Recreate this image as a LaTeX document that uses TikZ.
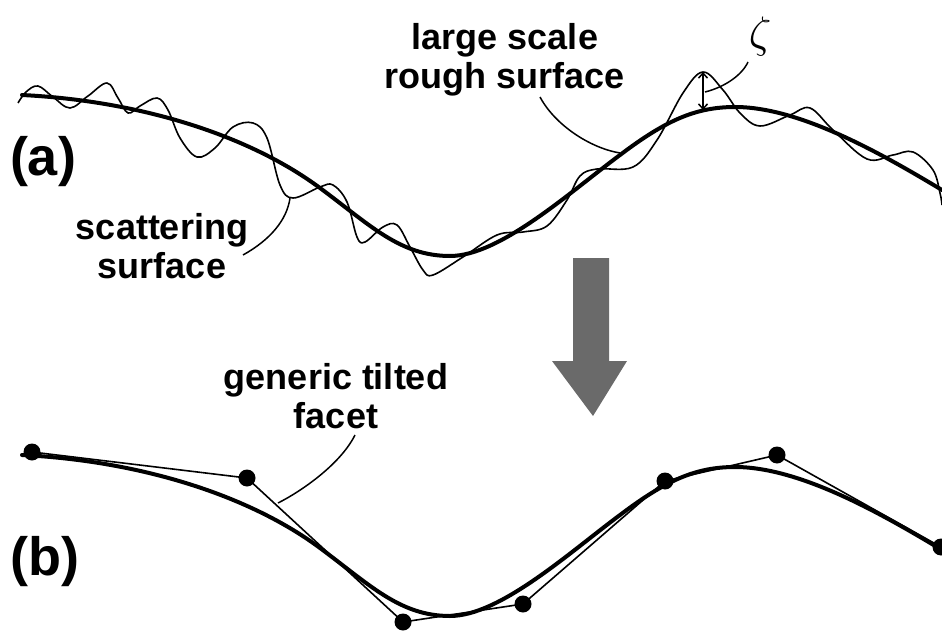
\documentclass[tikz,border=0pt]{standalone}
\usepackage{fontspec}
\setmainfont{Liberation Sans}
\usetikzlibrary{arrows.meta}
\newcommand\largecurve{(22,95) .. controls (142,101) and (250,136) .. (320,188) .. controls (370,225) and (400,256) .. (450,256) .. controls (500,256) and (570,192) .. (620,155) .. controls (665,121) and (695,107) .. (735,107) .. controls (800,107) and (882,154) .. (942,190)}
\begin{document}
\begin{tikzpicture}[x=1pt,y=-1pt,
  bigline/.style={line width=4pt, line join=round, line cap=round},
  thinline/.style={line width=1.6pt, line join=round},
  leader/.style={line width=1.5pt},
  label/.style={font=\fontsize{36}{39}\selectfont\bfseries, align=center, inner sep=0pt},
  panel/.style={font=\fontsize{54}{54}\selectfont\bfseries, inner sep=0pt},
  facetdot/.style={circle, fill=black, minimum size=17pt, inner sep=0pt},
  bigarrow/.style={fill=arrowgray, draw=none}]
\definecolor{arrowgray}{RGB}{106,106,106}
\useasboundingbox (0,0) rectangle (942,631);
% panel labels
\node[panel] (pa) at (43,162) {(a)};
\node[panel] (pb) at (45,562) {(b)};
% (a) large scale surface
\draw[bigline] \largecurve;
% scattering surface (thin wavy)
\draw[thinline] plot[smooth, tension=0.6] coordinates {
 (18,103) (26,92) (38,86) (53,97) (70,108) (88,96) (107,83) (118,98) (128,113) (140,106) (157,98) (168,110) (180,138) (197,157) (215,148) (233,127) (253,123) (267,138) (280,185) (293,198) (320,187) (333,185) (347,202) (357,237) (365,242) (383,227) (397,225) (410,247) (423,270) (433,275) (463,257) (497,235) (523,232) (547,226) (567,200) (580,176) (597,169) (633,167) (657,140) (683,93) (703,72) (723,90) (740,113) (760,126) (790,115) (810,108) (833,130) (867,159) (893,155) (913,152) (933,170) (940,193) (942,205)};
% labels (a)
\node[label] (lsr) at (505,60) {large scale\\rough surface};
\node[label] (scat) at (162,246) {scattering\\surface};
\node[inner sep=0pt] (zeta) at (760,37) {\scalebox{4.4}{$\zeta$}};
\coordinate (peak) at (703,72);
\coordinate (base) at (703,110);
\coordinate (zmid) at (705,92);
\coordinate (lsrA) at (540,97);
\coordinate (lsrB) at (620,153);
\coordinate (scA) at (243,255);
\coordinate (scB) at (290,198);
\coordinate (zA) at (748,62);
\draw[leader, {Straight Barb[length=5pt,width=9pt]}-{Straight Barb[length=5pt,width=9pt]}] (peak) -- (base);
\draw[leader] (zmid) .. controls (725,87) and (742,75) .. (zA);
\draw[leader] (lsrA) .. controls (555,125) and (590,148) .. (lsrB);
\draw[leader] (scA) .. controls (270,240) and (287,220) .. (scB);
% big gray arrow
\fill[bigarrow] (573,258) -- (609,258) -- (609,361) -- (627,361) -- (593,416) -- (552,361) -- (573,361) -- cycle;
% (b) facets
\begin{scope}[shift={(0,360)}]
\draw[bigline] \largecurve;
\end{scope}
\node[facetdot] (d1) at (32,452) {};
\node[facetdot] (d2) at (247,478) {};
\node[facetdot] (d3) at (403,622) {};
\node[facetdot] (d4) at (523,604) {};
\node[facetdot] (d5) at (665,481) {};
\node[facetdot] (d6) at (777,455) {};
\node[facetdot] (d7) at (941,547) {};
\draw[thinline] (d1.center) -- (d2.center) -- (d3.center) -- (d4.center) -- (d5.center) -- (d6.center) -- (d7.center);
\node[label] (gtf) at (336,396) {generic tilted\\facet};
\coordinate (gA) at (355,435);
\coordinate (gB) at (278,503);
\draw[leader] (gA) .. controls (340,465) and (300,492) .. (gB);
\end{tikzpicture}
\end{document}
